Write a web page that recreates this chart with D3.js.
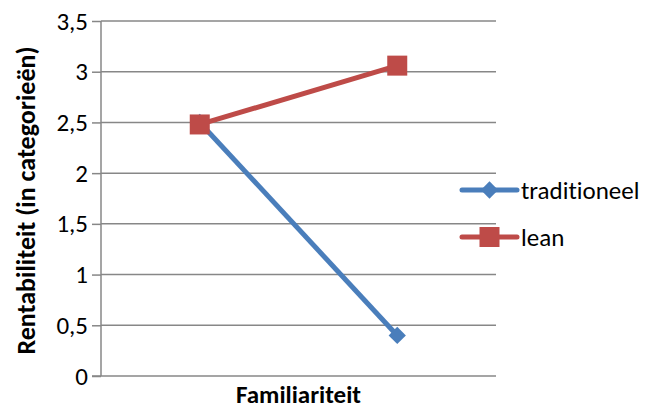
<!DOCTYPE html>
<html>
<head>
<meta charset="utf-8">
<script src="https://cdn.jsdelivr.net/npm/d3@7"></script>
<style>
  html, body { margin: 0; padding: 0; background: #fff; }
  svg { display: block; font-family: Carlito, Lato, "Open Sans", sans-serif; font-variant-ligatures: none; }
  text { font-variant-ligatures: none; font-feature-settings: "liga" 0, "clig" 0; }
</style>
</head>
<body>
<svg id="chart" width="646" height="411"></svg>
<script>
// Data
const categories = ["laag", "hoog"];
const seriesNames = ["traditioneel", "lean"];
const traditioneel = [2.5, 0.4];
const lean = [2.48, 3.06];
const yTicks = [0, 0.5, 1, 1.5, 2, 2.5, 3, 3.5];
const yTickLabels = ["0", "0,5", "1", "1,5", "2", "2,5", "3", "3,5"];
const colors = { traditioneel: "#4a7ebb", lean: "#be4b48" };

const svg = d3.select("#chart");
const margin = { left: 101, right: 150, top: 21, bottom: 35 };
const W = 646, H = 411;
const plotW = W - margin.left - margin.right;
const plotH = H - margin.top - margin.bottom;
const fontFamily = "Carlito, Lato, 'Open Sans', sans-serif";

const x = d3.scaleBand().domain(categories).range([0, plotW]);
const y = d3.scaleLinear().domain([0, 3.5]).range([plotH, 0]);

const g = svg.append("g").attr("transform", `translate(${margin.left},${margin.top})`);

// Gridlines
g.append("g")
  .selectAll("line")
  .data(yTicks.filter(t => t > 0))
  .join("line")
  .attr("x1", 0).attr("x2", plotW)
  .attr("y1", d => y(d)).attr("y2", d => y(d))
  .attr("stroke", "#878787").attr("stroke-width", 1.5);

// Y axis
const yAxis = d3.axisLeft(y)
  .tickValues(yTicks)
  .tickSize(9)
  .tickPadding(4)
  .tickFormat((d, i) => yTickLabels[i]);
const yg = g.append("g").call(yAxis);
yg.select(".domain").attr("stroke", "#878787").attr("stroke-width", 1.5)
  .attr("d", `M0,${plotH}V0`);
yg.selectAll(".tick line").attr("stroke", "#878787").attr("stroke-width", 1.5);
yg.selectAll(".tick text").attr("font-size", 25).attr("fill", "#000")
  .attr("font-family", fontFamily);

// X axis (no category labels)
const xg = g.append("g").attr("transform", `translate(0,${plotH})`);
xg.append("line")
  .attr("x1", -9).attr("x2", plotW)
  .attr("stroke", "#878787").attr("stroke-width", 1.5);

// Series
const cx = c => x(c) + x.bandwidth() / 2;
const line = d3.line().x((d, i) => cx(categories[i])).y(d => y(d));
const seriesData = [
  { name: "traditioneel", values: traditioneel, shape: "diamond" },
  { name: "lean", values: lean, shape: "square" }
];

function marker(sel, shape, color) {
  if (shape === "diamond") {
    sel.append("path")
      .attr("d", d3.symbol(d3.symbolDiamond2, 190)())
      .attr("fill", color);
  } else {
    sel.append("rect")
      .attr("x", -10).attr("y", -10).attr("width", 20).attr("height", 20)
      .attr("fill", color);
  }
}

seriesData.forEach(s => {
  g.append("path")
    .datum(s.values)
    .attr("d", line)
    .attr("fill", "none")
    .attr("stroke", colors[s.name])
    .attr("stroke-width", 5)
    .attr("stroke-linejoin", "round");
  s.values.forEach((v, i) => {
    const m = g.append("g").attr("transform", `translate(${cx(categories[i])},${y(v)})`);
    marker(m, s.shape, colors[s.name]);
  });
});

// Legend
const legend = svg.append("g").attr("transform", "translate(462,0)");
const legendY = [190, 237];
seriesData.forEach((s, i) => {
  const row = legend.append("g").attr("transform", `translate(0,${legendY[i]})`);
  row.append("line").attr("x1", 0).attr("x2", 55)
    .attr("stroke", colors[s.name]).attr("stroke-width", 5).attr("stroke-linecap", "round");
  const m = row.append("g").attr("transform", "translate(27.5,0)");
  marker(m, s.shape, colors[s.name]);
  row.append("text").attr("x", 59).attr("y", 0).attr("dy", "0.35em")
    .attr("font-size", 25).attr("fill", "#000").text(s.name);
});

// Axis titles
svg.append("text")
  .attr("x", margin.left + plotW / 2).attr("y", 403)
  .attr("text-anchor", "middle").attr("font-size", 25).attr("font-weight", "bold")
  .text("Familiariteit");
svg.append("text")
  .attr("transform", `translate(35,${margin.top + plotH / 2 + 2}) rotate(-90)`)
  .attr("text-anchor", "middle").attr("font-size", 26).attr("font-weight", "bold")
  .text("Rentabiliteit (in categorieën)");
</script>
</body>
</html>
